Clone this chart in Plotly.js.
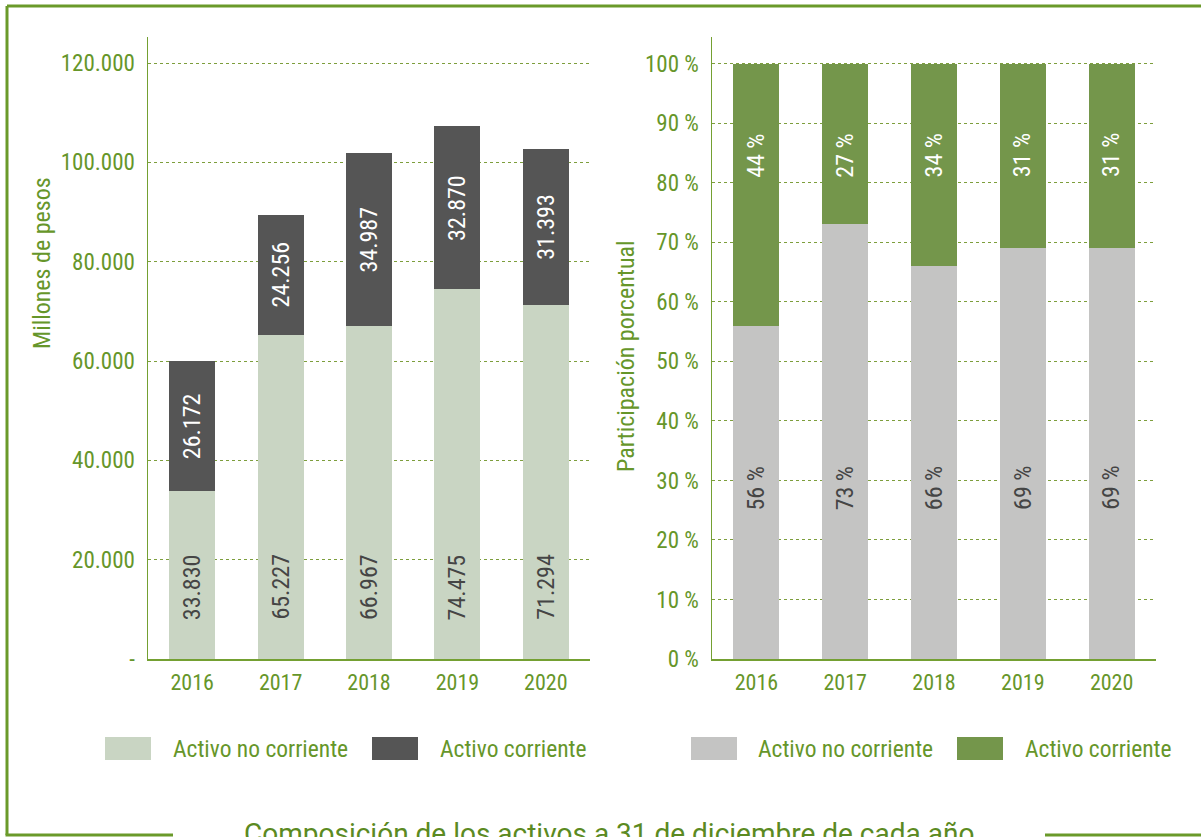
<!DOCTYPE html>
<html>
<head>
<meta charset="utf-8">
<script src="https://cdn.plot.ly/plotly-3.0.1.min.js"></script>
<style>
html,body{margin:0;padding:0;background:#fff;}
#chart{width:1201px;height:837px;}
</style>
</head>
<body>
<div id="chart"></div>
<script>
// ---- data ----
const years = ['2016', '2017', '2018', '2019', '2020'];
const activoNoCorriente = [33830, 65227, 66967, 74475, 71294];
const activoCorriente = [26172, 24256, 34987, 32870, 31393];
const pctNoCorriente = [56, 73, 66, 69, 69];
const pctCorriente = [44, 27, 34, 31, 31];
const valueTicks = [0, 20000, 40000, 60000, 80000, 100000, 120000];
const valueTickText = ['-', '20.000', '40.000', '60.000', '80.000', '100.000', '120.000'];
const pctTicks = [0, 10, 20, 30, 40, 50, 60, 70, 80, 90, 100];
const pctTickText = pctTicks.map(v => v + ' %');
const seriesNames = ['Activo no corriente', 'Activo corriente'];
const chartTitle = 'Composición de los activos a 31 de diciembre de cada año';
const leftAxisTitle = 'Millones de pesos';
const rightAxisTitle = 'Participación porcentual';

// ---- style ----
const W = 1201, H = 837;
const FONT = '"Roboto Condensed", Roboto, sans-serif';
const GREEN_TXT = '#66962a';
const GREEN_LINE = '#74a032';
const GRID = '#7d9e3c';
const FRAME = '#6a9a2a';
const C_LIGHT = '#c9d5c3';
const C_DARK = '#555555';
const C_GRAY = '#c4c4c3';
const C_GREEN = '#74964b';

const px = x => x / W;
const py = y => (H - y) / H;
const fmt = v => String(v).replace(/\B(?=(\d{3})+(?!\d))/g, '.');

const traces = [
  {type: 'bar', x: years, y: activoNoCorriente, name: seriesNames[0], xaxis: 'x', yaxis: 'y', marker: {color: C_LIGHT}},
  {type: 'bar', x: years, y: activoCorriente, name: seriesNames[1], xaxis: 'x', yaxis: 'y', marker: {color: C_DARK}},
  {type: 'bar', x: years, y: pctNoCorriente, name: seriesNames[0], xaxis: 'x2', yaxis: 'y2', marker: {color: C_GRAY}},
  {type: 'bar', x: years, y: pctCorriente, name: seriesNames[1], xaxis: 'x2', yaxis: 'y2', marker: {color: C_GREEN}}
];

const yDomain = [py(659), py(37)];
const tickFont = {family: FONT, size: 23, color: GREEN_TXT};

const baseX = {
  type: 'category', range: [-0.5, years.length - 0.5], autorange: false,
  showgrid: false, showline: true, linecolor: GREEN_LINE, linewidth: 1.5,
  ticks: '', tickfont: Object.assign({}, tickFont, {size: 22}), ticklabelstandoff: 3, zeroline: false, fixedrange: true
};
const baseY = {
  showgrid: true, gridcolor: GRID, griddash: 'dot', gridwidth: 1,
  showline: true, linecolor: GREEN_LINE, linewidth: 1.5, ticks: '', tickfont: tickFont,
  ticklabelstandoff: 7, zeroline: false, fixedrange: true, domain: yDomain, autorange: false
};

const annotations = [];
const LBL = 24;
// bar value labels (x = category index)
years.forEach((yr, i) => {
  annotations.push({x: i, y: 14500, xref: 'x', yref: 'y', text: fmt(activoNoCorriente[i]), textangle: -90,
    showarrow: false, font: {family: FONT, size: LBL, color: '#454545'}});
  annotations.push({x: i, y: activoNoCorriente[i] + activoCorriente[i] / 2, xref: 'x', yref: 'y',
    text: fmt(activoCorriente[i]), textangle: -90, showarrow: false, font: {family: FONT, size: LBL, color: '#ffffff'}});
  annotations.push({x: i, y: 28.7, xref: 'x2', yref: 'y2', text: pctNoCorriente[i] + ' %', textangle: -90,
    showarrow: false, font: {family: FONT, size: LBL, color: '#454545'}});
  annotations.push({x: i, y: 84.6, xref: 'x2', yref: 'y2', text: pctCorriente[i] + ' %', textangle: -90,
    showarrow: false, font: {family: FONT, size: LBL, color: '#ffffff'}});
});
// axis titles
annotations.push({x: px(42), y: py(263), xref: 'paper', yref: 'paper', text: leftAxisTitle, textangle: -90,
  showarrow: false, font: {family: FONT, size: 24, color: GREEN_TXT}, xanchor: 'center', yanchor: 'middle'});
annotations.push({x: px(626), y: py(356), xref: 'paper', yref: 'paper', text: rightAxisTitle, textangle: -90,
  showarrow: false, font: {family: FONT, size: 24, color: GREEN_TXT}, xanchor: 'center', yanchor: 'middle'});
// main title (cut by the bottom edge, as in the reference)
annotations.push({x: px(609), y: py(815), xref: 'paper', yref: 'paper', text: chartTitle, showarrow: false,
  xanchor: 'center', yanchor: 'top', font: {family: 'Roboto, sans-serif', size: 28, color: '#5b8a22'}});

// custom legends
const shapes = [];
function legendItem(bx, tx, color, label) {
  shapes.push({type: 'rect', xref: 'paper', yref: 'paper', x0: px(bx), x1: px(bx + 46), y0: py(760), y1: py(737),
    fillcolor: color, line: {width: 0}});
  annotations.push({x: px(tx), y: py(749), xref: 'paper', yref: 'paper', text: label, showarrow: false,
    xanchor: 'left', yanchor: 'middle', font: {family: FONT, size: 23.5, color: GREEN_TXT}});
}
legendItem(105, 171, C_LIGHT, seriesNames[0]);
legendItem(372, 438, C_DARK, seriesNames[1]);
legendItem(691, 756, C_GRAY, seriesNames[0]);
legendItem(957, 1023, C_GREEN, seriesNames[1]);

// frame
const fl = {color: FRAME, width: 3};
shapes.push({type: 'line', xref: 'paper', yref: 'paper', x0: px(7), x1: px(1205), y0: py(6), y1: py(6), line: fl});
shapes.push({type: 'line', xref: 'paper', yref: 'paper', x0: px(7), x1: px(7), y0: py(6), y1: py(835), line: fl});
shapes.push({type: 'line', xref: 'paper', yref: 'paper', x0: px(5.5), x1: px(173), y0: py(835), y1: py(835), line: fl});
shapes.push({type: 'line', xref: 'paper', yref: 'paper', x0: px(1045), x1: px(1205), y0: py(835), y1: py(835), line: fl});

const layout = {
  width: W, height: H,
  margin: {l: 0, r: 0, t: 0, b: 0},
  paper_bgcolor: '#ffffff', plot_bgcolor: '#ffffff',
  barmode: 'stack', bargap: 0.48,
  showlegend: false,
  font: {family: FONT, color: GREEN_TXT},
  xaxis: Object.assign({}, baseX, {domain: [px(148), px(590)], anchor: 'y'}),
  yaxis: Object.assign({}, baseY, {anchor: 'x', range: [0, 125235], tickvals: valueTicks, ticktext: valueTickText}),
  xaxis2: Object.assign({}, baseX, {domain: [px(712), px(1156)], anchor: 'y2'}),
  yaxis2: Object.assign({}, baseY, {anchor: 'x2', range: [0, 104.5], tickvals: pctTicks, ticktext: pctTickText}),
  annotations: annotations,
  shapes: shapes
};

Plotly.newPlot('chart', traces, layout, {staticPlot: true, displayModeBar: false});
</script>
</body>
</html>
